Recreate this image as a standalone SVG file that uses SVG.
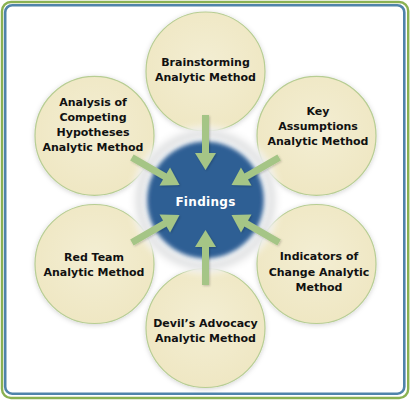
<svg xmlns="http://www.w3.org/2000/svg" width="411" height="400" viewBox="0 0 411 400">
  <defs>
    <style>
      .lbl { font-family: "DejaVu Sans", Verdana, sans-serif; font-weight: bold; font-size: 11px; fill: #111; text-anchor: middle; }
      .core { font-family: "DejaVu Sans", Verdana, sans-serif; font-weight: bold; font-size: 12px; fill: #ffffff; text-anchor: middle; letter-spacing: 0.3px; }
      .bubble { fill: url(#cream); stroke: #b7cd93; stroke-width: 1.2; filter: url(#soft); }
      .arrow { fill: #a5c586; filter: url(#ashadow); }
    </style>
    <radialGradient id="cream" cx="50%" cy="45%" r="55%">
      <stop offset="0" stop-color="#f3eed3"/>
      <stop offset="1" stop-color="#efe7c3"/>
    </radialGradient>
    <radialGradient id="halo" cx="50%" cy="50%" r="50%">
      <stop offset="0.78" stop-color="#ffffff"/>
      <stop offset="0.86" stop-color="#d8dadc"/>
      <stop offset="0.93" stop-color="#f4f4f4"/>
      <stop offset="1" stop-color="#ffffff" stop-opacity="0"/>
    </radialGradient>
    <filter id="soft" x="-20%" y="-20%" width="140%" height="140%">
      <feGaussianBlur in="SourceAlpha" stdDeviation="2.5"/>
      <feOffset dx="0" dy="1" result="b"/>
      <feFlood flood-color="#000" flood-opacity="0.18"/>
      <feComposite in2="b" operator="in"/>
      <feMerge><feMergeNode/><feMergeNode in="SourceGraphic"/></feMerge>
    </filter>
    <filter id="blur2" x="-20%" y="-20%" width="140%" height="140%">
      <feGaussianBlur stdDeviation="2.2"/>
    </filter>
    <filter id="blur4" x="-30%" y="-30%" width="160%" height="160%">
      <feGaussianBlur stdDeviation="3"/>
    </filter>
    <filter id="ashadow" x="-50%" y="-50%" width="200%" height="200%">
      <feGaussianBlur in="SourceAlpha" stdDeviation="1"/>
      <feOffset dx="1" dy="1" result="b"/>
      <feFlood flood-color="#000" flood-opacity="0.2"/>
      <feComposite in2="b" operator="in"/>
      <feMerge><feMergeNode/><feMergeNode in="SourceGraphic"/></feMerge>
    </filter>
    <!-- arrow pointing down, tip at origin -->
    <path id="arr" d="M-3.5,-55 L3.5,-55 L3.5,-17 L10.5,-17 L0,0 L-10.5,-17 L-3.5,-17 Z"/>
  </defs>

  <rect width="411" height="400" fill="#ffffff"/>

  <!-- double frame -->
  <rect x="2" y="2" width="406.2" height="396" rx="9" fill="none" stroke="#8ab152" stroke-width="2.4"/>
  <rect x="5.2" y="5.2" width="399.1" height="388.5" rx="7" fill="none" stroke="#4f83aa" stroke-width="2.6"/>

  <!-- outer method bubbles -->
  <g id="brainstorming">
    <circle class="bubble" cx="205.5" cy="71.5" r="59.5"/>
    <text class="lbl" x="205.5" y="66">Brainstorming</text>
    <text class="lbl" x="205.5" y="81">Analytic Method</text>
  </g>
  <g id="key-assumptions">
    <circle class="bubble" cx="316.5" cy="135.8" r="59.5"/>
    <text class="lbl" x="318" y="114.5">Key</text>
    <text class="lbl" x="318" y="129.5">Assumptions</text>
    <text class="lbl" x="318" y="145">Analytic Method</text>
  </g>
  <g id="indicators">
    <circle class="bubble" cx="316.5" cy="264" r="59.5"/>
    <text class="lbl" x="319" y="260">Indicators of</text>
    <text class="lbl" x="319" y="275.5">Change Analytic</text>
    <text class="lbl" x="319" y="291">Method</text>
  </g>
  <g id="devils-advocacy">
    <circle class="bubble" cx="205.5" cy="328" r="59.5"/>
    <text class="lbl" x="205.5" y="326.5">Devil’s Advocacy</text>
    <text class="lbl" x="205.5" y="341.5">Analytic Method</text>
  </g>
  <g id="red-team">
    <circle class="bubble" cx="94.5" cy="264" r="59.5"/>
    <text class="lbl" x="94" y="261">Red Team</text>
    <text class="lbl" x="94" y="276">Analytic Method</text>
  </g>
  <g id="competing-hypotheses">
    <circle class="bubble" cx="94.5" cy="135.8" r="59.5"/>
    <text class="lbl" x="93" y="106">Analysis of</text>
    <text class="lbl" x="93" y="121">Competing</text>
    <text class="lbl" x="93" y="136">Hypotheses</text>
    <text class="lbl" x="93" y="151">Analytic Method</text>
  </g>

  <!-- central finding -->
  <g id="findings">
    <circle cx="205.5" cy="200" r="76" fill="url(#halo)" filter="url(#blur4)"/>
    <circle cx="205.5" cy="200" r="58.5" fill="#2d5f94" filter="url(#blur2)"/>
    <text class="core" x="205.5" y="205.5">Findings</text>
  </g>

  <!-- connectors -->
  <g id="connectors" class="arrow">
    <use href="#arr" transform="rotate(0 205.5 200) translate(205.5 170)"/>
    <use href="#arr" transform="rotate(60 205.5 200) translate(205.5 170)"/>
    <use href="#arr" transform="rotate(120 205.5 200) translate(205.5 170)"/>
    <use href="#arr" transform="rotate(180 205.5 200) translate(205.5 170)"/>
    <use href="#arr" transform="rotate(240 205.5 200) translate(205.5 170)"/>
    <use href="#arr" transform="rotate(300 205.5 200) translate(205.5 170)"/>
  </g>
</svg>
